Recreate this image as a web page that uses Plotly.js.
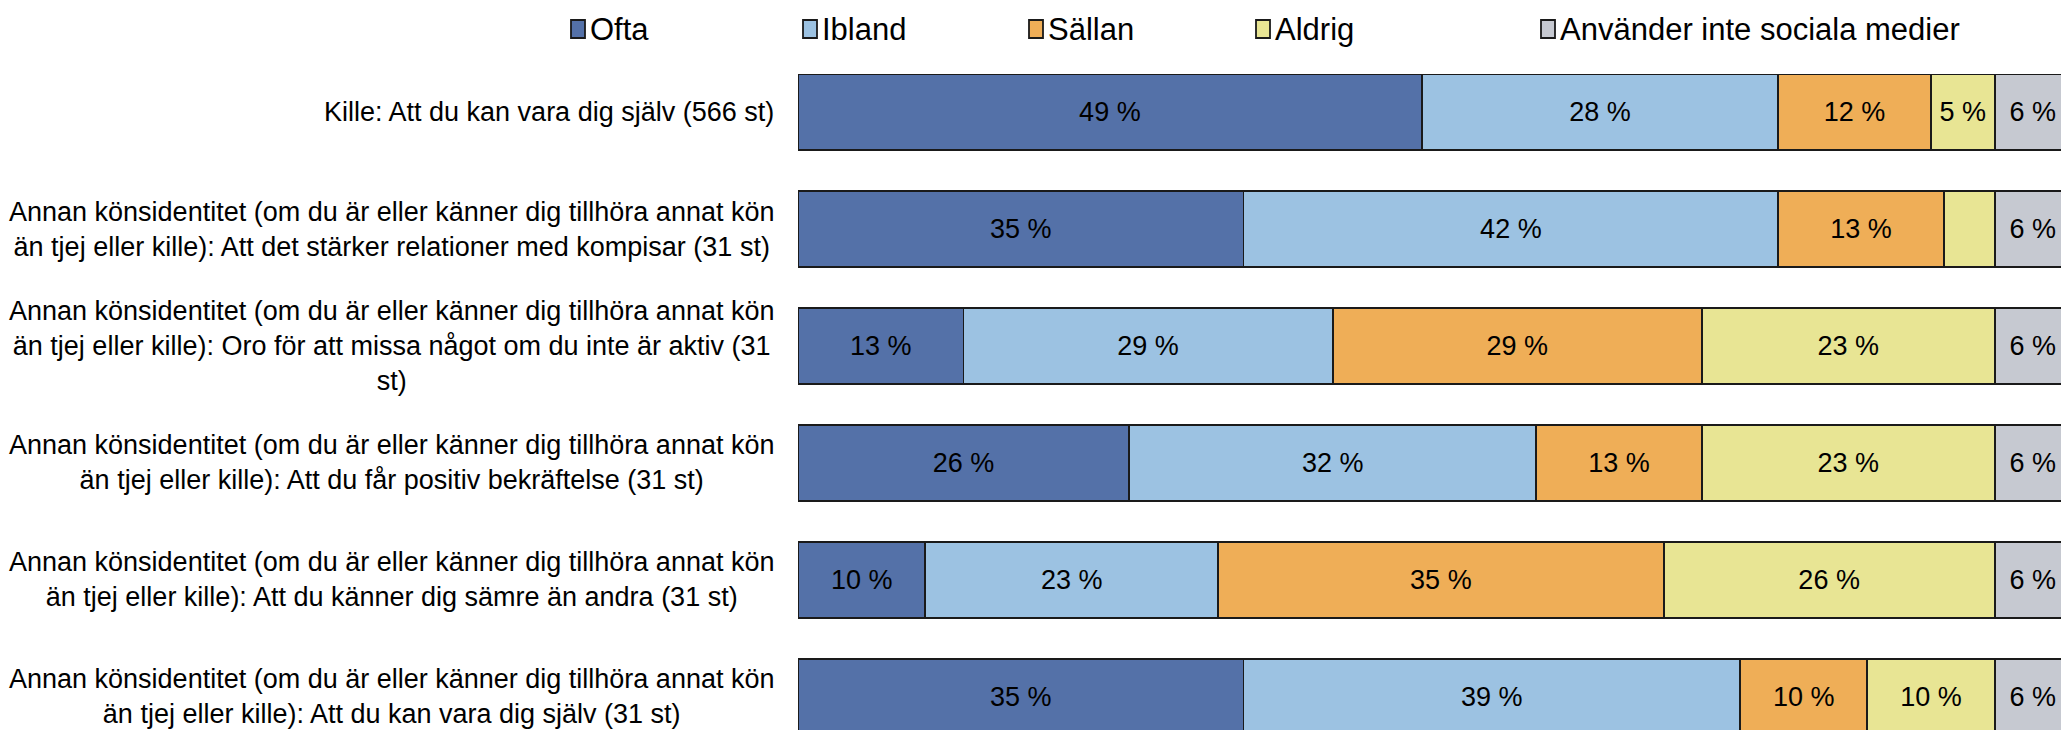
<!DOCTYPE html>
<html>
<head>
<meta charset="utf-8">
<script src="https://cdn.plot.ly/plotly-3.0.1.min.js"></script>
<style>
  html, body { margin: 0; padding: 0; overflow: hidden; background: #ffffff; }
  #chart { width: 2071px; height: 755px; }
</style>
</head>
<body>
<div id="chart"></div>
<script>
// Survey rows (top to bottom)
const categories = [
  'Kille: Att du kan vara dig själv (566 st)',
  'Annan könsidentitet (om du är eller känner dig tillhöra annat kön<br>än tjej eller kille): Att det stärker relationer med kompisar (31 st)',
  'Annan könsidentitet (om du är eller känner dig tillhöra annat kön<br>än tjej eller kille): Oro för att missa något om du inte är aktiv (31<br>st)',
  'Annan könsidentitet (om du är eller känner dig tillhöra annat kön<br>än tjej eller kille): Att du får positiv bekräftelse (31 st)',
  'Annan könsidentitet (om du är eller känner dig tillhöra annat kön<br>än tjej eller kille): Att du känner dig sämre än andra (31 st)',
  'Annan könsidentitet (om du är eller känner dig tillhöra annat kön<br>än tjej eller kille): Att du kan vara dig själv (31 st)'
];

const seriesNames = ['Ofta', 'Ibland', 'Sällan', 'Aldrig', 'Använder inte sociala medier'];

// Share of answers in percent, one value per row
const ofta     = [49, 35, 13, 26, 10, 35];
const ibland   = [28, 42, 29, 32, 23, 39];
const sallan   = [12, 13, 29, 13, 35, 10];
const aldrig   = [5,  4,  23, 23, 26, 10];
const anvander = [6,  6,  6,  6,  6,  6];

const colors = ['#5471a8', '#9cc2e2', '#efae57', '#e8e594', '#c6c9d1'];
const FONT = '"Liberation Sans", Arial, sans-serif';

// Page geometry
const W = 2071, H = 755;
const M = { l: 798, r: 0, t: 54, b: 0 };
const plotW = W - M.l - M.r;
const plotH = H - M.t - M.b;
const px2x = p => (p - M.l) / plotW;
const px2y = p => 1 - (p - M.t) / plotH;

const series = [ofta, ibland, sallan, aldrig, anvander];

const traces = series.map((vals, i) => ({
  type: 'bar',
  orientation: 'h',
  name: seriesNames[i],
  y: categories,
  x: vals,
  // very narrow segments carry no label
  text: vals.map(v => (v >= 5 ? v + ' %' : '')),
  textposition: 'inside',
  insidetextanchor: 'middle',
  textfont: { family: FONT, size: 27, color: '#000000' },
  insidetextfont: { family: FONT, size: 27, color: '#000000' },
  marker: { color: colors[i], line: { color: '#1a1a1a', width: 1.8 } },
  hoverinfo: 'none',
  showlegend: false
}));

// Row labels, centred line by line, right edge just left of the bars
const rowLabels = categories.map(c => ({
  text: c,
  x: px2x(776),
  xref: 'paper',
  y: c,
  yref: 'y',
  xanchor: 'right',
  yanchor: 'middle',
  align: 'center',
  showarrow: false,
  font: { family: FONT, size: 27, color: '#000000' }
}));

// Legend row across the top
const legendLeft = [571, 803, 1029, 1256, 1541];
const legendShapes = legendLeft.map((x0, i) => ({
  type: 'rect',
  xref: 'paper', yref: 'paper',
  x0: px2x(x0), x1: px2x(x0 + 14),
  y0: px2y(38), y1: px2y(20),
  fillcolor: colors[i],
  line: { color: '#1a1a1a', width: 1.8 }
}));
const legendTexts = legendLeft.map((x0, i) => ({
  text: seriesNames[i],
  xref: 'paper', yref: 'paper',
  x: px2x(x0 + 17),
  y: px2y(29),
  xanchor: 'left',
  yanchor: 'middle',
  showarrow: false,
  font: { family: FONT, size: 31, color: '#000000' }
}));

const layout = {
  width: W,
  height: H,
  margin: M,
  barmode: 'stack',
  bargap: 0.35,
  paper_bgcolor: '#ffffff',
  plot_bgcolor: '#ffffff',
  showlegend: false,
  font: { family: FONT, color: '#000000' },
  xaxis: {
    range: [0, 100],
    visible: false,
    fixedrange: true
  },
  yaxis: {
    type: 'category',
    autorange: 'reversed',
    showticklabels: false,
    showgrid: false,
    zeroline: false,
    showline: false,
    ticks: '',
    fixedrange: true
  },
  shapes: legendShapes,
  annotations: rowLabels.concat(legendTexts)
};

Plotly.newPlot('chart', traces, layout, { displayModeBar: false, staticPlot: true });
</script>
</body>
</html>
